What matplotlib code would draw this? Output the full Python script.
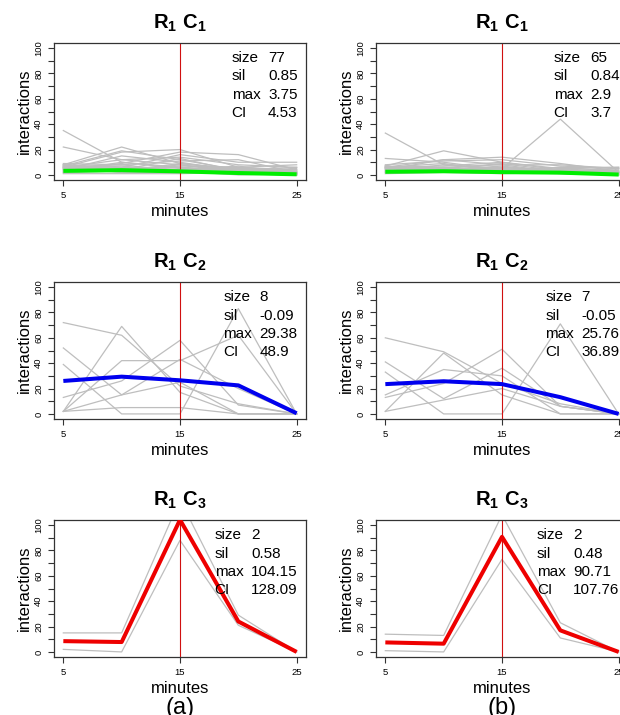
import matplotlib
matplotlib.use("Agg")
import matplotlib.pyplot as plt
from matplotlib.offsetbox import AnchoredOffsetbox, HPacker, VPacker, TextArea

plt.rcParams["font.family"] = "Liberation Sans"
plt.rcParams["mathtext.fontset"] = "custom"
plt.rcParams["mathtext.rm"] = "Liberation Sans"
plt.rcParams["mathtext.bf"] = "Liberation Sans:bold"

minutes = [5, 10, 15, 20, 25]
stat_names = ["size", "sil", "max", "CI"]

# ---- run (a) ----
a_c1_members = [
    [35, 10, 6, 4, 2], [22, 12, 8, 3, 1], [8, 22, 9, 5, 3], [7, 19, 12, 4, 2],
    [6, 18, 20, 6, 1], [5, 9, 18, 16, 4], [8, 6, 16, 10, 10], [6, 12, 14, 8, 6],
    [4, 15, 10, 3, 5], [9, 8, 11, 12, 2], [7, 5, 7, 6, 8], [3, 10, 5, 4, 6],
    [6, 4, 13, 3, 1], [5, 7, 3, 6, 4], [8, 3, 6, 2, 1], [4, 6, 4, 5, 3],
    [2, 3, 8, 2, 0], [7, 2, 2, 3, 2], [3, 5, 6, 1, 0], [5, 2, 4, 7, 1],
    [2, 4, 2, 1, 0], [6, 8, 3, 0, 1], [1, 1, 1, 2, 0], [4, 3, 9, 4, 2],
]
a_c1_center = [3.2, 3.75, 2.8, 1.5, 0.5]
a_c1_stats = ["77", "0.85", "3.75", "4.53"]

a_c2_members = [
    [72, 62, 22, 8, 0], [2, 69, 17, 0, 0], [52, 15, 43, 20, 0], [39, 0, 0, 83, 0],
    [13, 26, 58, 7, 0], [2, 42, 42, 62, 0], [2, 15, 25, 0, 0], [2, 5, 5, 0, 0],
]
a_c2_center = [26, 29.38, 26.5, 22.5, 0.5]
a_c2_stats = ["8", "-0.09", "29.38", "48.9"]

a_c3_members = [[15, 15, 120, 29, 0], [2, 0, 88, 21, 0]]
a_c3_center = [8.5, 7.8, 104.15, 24, 0]
a_c3_stats = ["2", "0.58", "104.15", "128.09"]

# ---- run (b) ----
b_c1_members = [
    [33, 8, 5, 3, 2], [13, 10, 4, 6, 3], [7, 19, 10, 4, 2], [6, 12, 14, 9, 3],
    [8, 11, 12, 7, 5], [5, 3, 5, 44, 2], [6, 7, 10, 5, 6], [4, 12, 8, 8, 5],
    [7, 5, 9, 3, 4], [3, 8, 4, 6, 6], [6, 4, 7, 2, 1], [5, 6, 3, 4, 3],
    [2, 5, 6, 3, 1], [7, 3, 2, 5, 2], [4, 2, 5, 1, 0], [3, 6, 8, 2, 1],
    [6, 9, 3, 4, 2], [2, 3, 2, 1, 0], [5, 4, 6, 3, 5], [1, 2, 1, 2, 0],
]
b_c1_center = [2.5, 2.9, 2.2, 1.8, 0.3]
b_c1_stats = ["65", "0.84", "2.9", "3.7"]

b_c2_members = [
    [60, 49, 24, 8, 0], [2, 48, 15, 0, 0], [41, 12, 36, 6, 0], [33, 0, 0, 71, 0],
    [13, 24, 51, 6, 0], [15, 35, 30, 0, 0], [2, 11, 20, 6, 0],
]
b_c2_center = [23.5, 25.76, 23.5, 13.2, 0]
b_c2_stats = ["7", "-0.05", "25.76", "36.89"]

b_c3_members = [[14, 13, 108, 23, 0], [1, 0, 73, 11, 0]]
b_c3_center = [7.5, 6.5, 90.71, 17, 0]
b_c3_stats = ["2", "0.48", "90.71", "107.76"]

runs = [
    [(a_c1_members, a_c1_center, a_c1_stats), (a_c2_members, a_c2_center, a_c2_stats),
     (a_c3_members, a_c3_center, a_c3_stats)],
    [(b_c1_members, b_c1_center, b_c1_stats), (b_c2_members, b_c2_center, b_c2_stats),
     (b_c3_members, b_c3_center, b_c3_stats)],
]
center_colors = ["#00ee00", "#0000ee", "#ee0000"]
run_labels = ["(a)", "(b)"]

W, H = 620, 715
fig = plt.figure(figsize=(W / 100, H / 100), dpi=100)

col_left = [54, 376]
ax_w = 252
row_top = [43, 282, 520]
ax_h = 137


def stats_box(values):
    names = VPacker(children=[TextArea(s, textprops=dict(size=11)) for s in stat_names],
                    align="left", pad=0, sep=3.0)
    vals = VPacker(children=[TextArea(s, textprops=dict(size=11)) for s in values],
                   align="left", pad=0, sep=3.0)
    box = HPacker(children=[names, vals], align="top", pad=0, sep=5.5)
    return AnchoredOffsetbox(loc="upper right", child=box, frameon=False,
                             pad=0, borderpad=0.6)


for c, run in enumerate(runs):
    for r, (members, center, stats) in enumerate(run):
        ax = fig.add_axes([col_left[c] / W, 1 - (row_top[r] + ax_h) / H, ax_w / W, ax_h / H])
        for m in members:
            ax.plot(minutes, m, color="#bebebe", lw=0.9, zorder=1)
        ax.axvline(15, color="#d01010", lw=0.8, zorder=2)
        ax.plot(minutes, center, color=center_colors[r], lw=2.9, zorder=3,
                solid_capstyle="butt")
        ax.set_xlim(4.2, 25.8)
        ax.set_ylim(-4, 104)
        ax.set_xticks([5, 15, 25])
        ax.set_yticks(range(0, 101, 10))
        ax.set_yticklabels([str(v) if v % 20 == 0 else "" for v in range(0, 101, 10)],
                           rotation=90, va="center")
        ax.tick_params(direction="out", length=4.3, width=0.8, color="#333333",
                       labelsize=6.8, pad=3.5)
        for sp in ax.spines.values():
            sp.set_color("#333333")
            sp.set_linewidth(0.9)
        ax.set_xlabel("minutes", fontsize=12, labelpad=3)
        ax.set_ylabel("interactions", fontsize=12, labelpad=2)
        ax.set_title(r"$\mathbf{R_1\ C_%d}$" % (r + 1), fontsize=14.5, pad=10)
        ax.add_artist(stats_box(stats))

    fig.text((col_left[c] + 126) / W, 1 - 697 / H, run_labels[c], fontsize=17,
             ha="center", va="top")

fig.savefig("out.png", dpi=100)
